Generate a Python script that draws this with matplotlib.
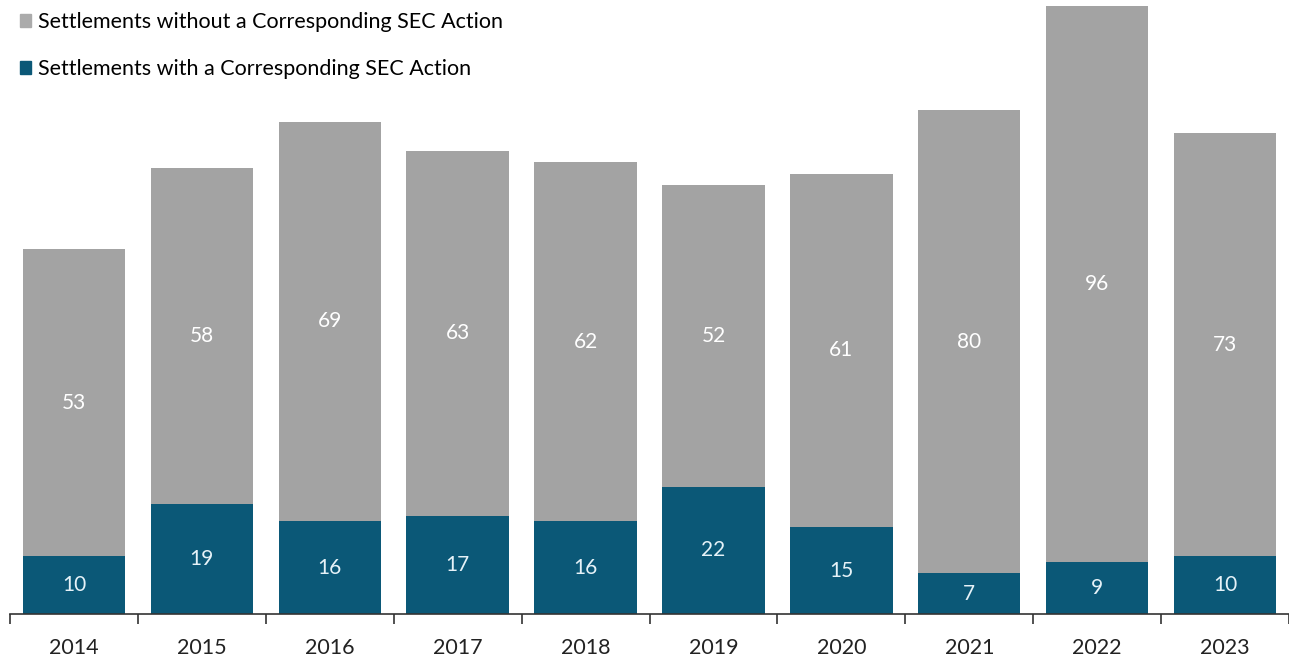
import matplotlib.pyplot as plt
import numpy as np
from matplotlib.patches import Patch

years = ['2014', '2015', '2016', '2017', '2018', '2019', '2020', '2021', '2022', '2023']
with_sec = [10, 19, 16, 17, 16, 22, 15, 7, 9, 10]
without_sec = [53, 58, 69, 63, 62, 52, 61, 80, 96, 73]

gray = '#a3a3a3'
teal = '#0b5877'

plt.rcParams['font.family'] = ['Lato', 'DejaVu Sans']

fig = plt.figure(figsize=(12.89, 6.56), dpi=100)
ax = fig.add_axes([10 / 1289, 42 / 656, 1279 / 1289, 614 / 656])

x = np.arange(len(years))
b1 = ax.bar(x, with_sec, width=0.8, color=teal)
b2 = ax.bar(x, without_sec, width=0.8, bottom=with_sec, color=gray)

for i in range(len(years)):
    ax.text(x[i], with_sec[i] / 2, str(with_sec[i]), ha='center', va='center',
            color='#e6f2f8', fontsize=15)
    ax.text(x[i], with_sec[i] + without_sec[i] / 2, str(without_sec[i]),
            ha='center', va='center', color='white', fontsize=15)

ax.set_xlim(-0.5, len(years) - 0.5)
ax.set_ylim(0, 106)
ax.set_yticks([])
for s in ['top', 'right', 'left']:
    ax.spines[s].set_visible(False)
ax.spines['bottom'].set_color('#333333')
ax.spines['bottom'].set_linewidth(1.2)

ax.set_xticks(x)
ax.set_xticklabels(years, fontsize=15.5, color='#222222')
ax.tick_params(axis='x', which='major', length=0, pad=17)
ax.set_xticks(np.arange(len(years) + 1) - 0.5, minor=True)
ax.tick_params(axis='x', which='minor', length=7, width=1.2, color='#333333')

handles = [Patch(color='#ababab'), Patch(color=teal)]
labels = ['Settlements without a Corresponding SEC Action',
          'Settlements with a Corresponding SEC Action']
fig.legend(handles, labels, loc='upper left', bbox_to_anchor=(0.006, 1.0),
           frameon=False, fontsize=15.5, handlelength=0.55, handleheight=0.55,
           handletextpad=0.3, labelspacing=1.25, borderaxespad=0.15)

fig.savefig('out.png', dpi=100)
